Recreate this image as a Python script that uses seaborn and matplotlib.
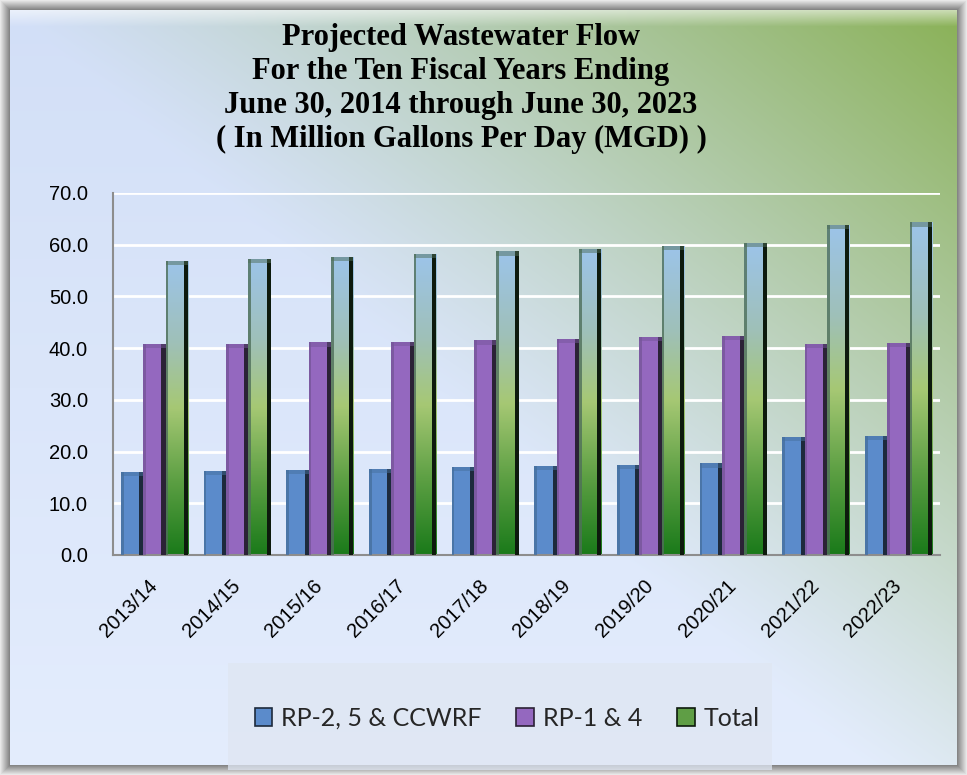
import numpy as np
import pandas as pd
import matplotlib
matplotlib.use("Agg")
import matplotlib.pyplot as plt
import seaborn as sns
from matplotlib.patches import Patch, Rectangle

# ---- data (MGD) ----
years = ["2013/14", "2014/15", "2015/16", "2016/17", "2017/18",
         "2018/19", "2019/20", "2020/21", "2021/22", "2022/23"]
rp2_5_ccwrf = [16.0, 16.2, 16.5, 16.7, 17.0, 17.2, 17.4, 17.7, 22.8, 23.1]
rp1_4 = [40.8, 40.8, 41.1, 41.2, 41.5, 41.8, 42.1, 42.4, 40.8, 41.0]
total = [56.9, 57.3, 57.7, 58.2, 58.7, 59.2, 59.8, 60.4, 63.9, 64.3]
series_names = ["RP-2, 5 & CCWRF", "RP-1 & 4", "Total"]
y_ticks = [0, 10, 20, 30, 40, 50, 60, 70]

title_lines = ["Projected Wastewater Flow",
               "For the Ten Fiscal Years Ending",
               "June 30, 2014 through June 30, 2023",
               "( In Million Gallons Per Day (MGD) )"]

df = pd.DataFrame({
    "year": years * 3,
    "mgd": rp2_5_ccwrf + rp1_4 + total,
    "series": [series_names[0]] * len(years) + [series_names[1]] * len(years)
              + [series_names[2]] * len(years),
})

face = {series_names[0]: "#5b8bcb", series_names[1]: "#9468bf", series_names[2]: "#5f9e45"}
left_edge = {series_names[0]: "#46709f", series_names[1]: "#76569a", series_names[2]: "#4f6f5a"}
right_edge = {series_names[0]: "#1d2a3c", series_names[1]: "#2b2236", series_names[2]: "#0d1a0d"}

sns.set_theme(style="white")
plt.rcParams["font.family"] = ["Liberation Sans", "DejaVu Sans"]

W, H = 967, 775
fig = plt.figure(figsize=(W / 100, H / 100), dpi=100)

# ---- background panel with bevelled frame ----
bg = fig.add_axes([0, 0, 1, 1], zorder=-10)
yy, xx = np.mgrid[0:H, 0:W].astype(float)
u, v = xx / W, yy / H
t = np.clip(u - 0.9 * v, 0, 1) ** 1.15
c0 = np.array([210, 223, 247], float)
c1 = np.array([136, 176, 82], float)
img = c0 * (1 - t[..., None]) + c1 * t[..., None]
img += ((1 - t) * v)[..., None] * np.array([18, 14, 6], float)
# top highlight bevel
band = np.clip(1 - (yy - 10) / 16, 0, 1) * (yy >= 10)
img = img * (1 - 0.55 * band[..., None]) + 255 * 0.55 * band[..., None]
# outer grey frame
d = np.minimum.reduce([xx, yy, W - 1 - xx, H - 1 - yy])
frame = d < 10
gray = 232 - np.clip(d, 0, 10) * 11
img[frame] = np.stack([gray[frame]] * 3, axis=-1)
bg.imshow(np.clip(img, 0, 255).astype(np.uint8), aspect="auto", interpolation="bilinear")
bg.set_axis_off()

# legend backing panel
fig.patches.append(Rectangle((228 / W, 1 - 770 / H), (772 - 228) / W, (770 - 663) / H,
                             transform=fig.transFigure, facecolor="#dfe6f2",
                             edgecolor="none", alpha=0.75, zorder=-5))

# ---- bars ----
ax = fig.add_axes([113 / W, 1 - 555 / H, (940 - 113) / W, (555 - 193) / H])
ax.patch.set_alpha(0)
sns.barplot(data=df, x="year", y="mgd", hue="series", hue_order=series_names,
            palette=face, saturation=1, width=0.81, edgecolor="none",
            legend=False, ax=ax, zorder=2)

total_cmap = matplotlib.colors.LinearSegmentedColormap.from_list(
    "total", [(0.0, "#1a7a1a"), (0.25, "#5c9f43"), (0.5, "#a6c874"),
              (0.72, "#9fc0b8"), (1.0, "#9cc4ea")])
grad = np.linspace(0, 1, 256)[:, None]

for name, cont in zip(series_names, ax.containers):
    for bar in cont:
        x0, w, h = bar.get_x(), bar.get_width(), bar.get_height()
        if name == series_names[2]:
            im = ax.imshow(grad, cmap=total_cmap, origin="lower", aspect="auto",
                           extent=(x0, x0 + w, 0, h), zorder=2.5)
            im.set_clip_path(bar)
        ax.add_patch(Rectangle((x0, 0), w * 0.12, h, facecolor=left_edge[name],
                               edgecolor="none", zorder=3, alpha=0.8))
        ax.add_patch(Rectangle((x0 + w * 0.82, 0), w * 0.18, h, facecolor=right_edge[name],
                               edgecolor="none", zorder=3))
        ax.add_patch(Rectangle((x0, h - 0.8), w, 0.8, facecolor=left_edge[name],
                               edgecolor="none", zorder=3, alpha=0.5))

ax.set_xlim(-0.5, len(years) - 0.5)
ax.set_ylim(0, 70)
ax.set_yticks(y_ticks)
ax.set_yticklabels([f"{y:.1f}" for y in y_ticks], fontsize=14.5)
ax.set_xlabel("")
ax.set_ylabel("")
ax.yaxis.grid(True, color="white", linewidth=2)
ax.xaxis.grid(False)
ax.set_axisbelow(True)
for s in ["top", "right"]:
    ax.spines[s].set_visible(False)
for s in ["left", "bottom"]:
    ax.spines[s].set_color("#8d8d8d")
    ax.spines[s].set_linewidth(1.5)
ax.tick_params(axis="y", length=0, pad=18, colors="black")
ax.tick_params(axis="x", length=0, pad=20, colors="black")
for lab in ax.get_xticklabels():
    lab.set_rotation(45)
    lab.set_ha("right")
    lab.set_va("center")
    lab.set_rotation_mode("anchor")
    lab.set_fontsize(14.5)
ax.set_zorder(1)

# ---- title ----
fig.text(461 / W, 1 - 23 / H, "\n".join(title_lines), ha="center", va="top",
         fontsize=22, fontweight="bold", family=["Liberation Serif"], linespacing=1.23,
         color="black")

# ---- legend ----
handles = [Patch(facecolor=face[n], edgecolor=right_edge[n], linewidth=1.2) for n in series_names]
fig.legend(handles, series_names, loc="center", bbox_to_anchor=(507 / W, 1 - 718 / H),
           ncol=3, frameon=False, prop={"family": ["Lato", "DejaVu Sans"], "size": 18},
           handlelength=0.7, handleheight=0.7, handletextpad=0.35, columnspacing=1.4)

fig.savefig("out.png", dpi=100)
